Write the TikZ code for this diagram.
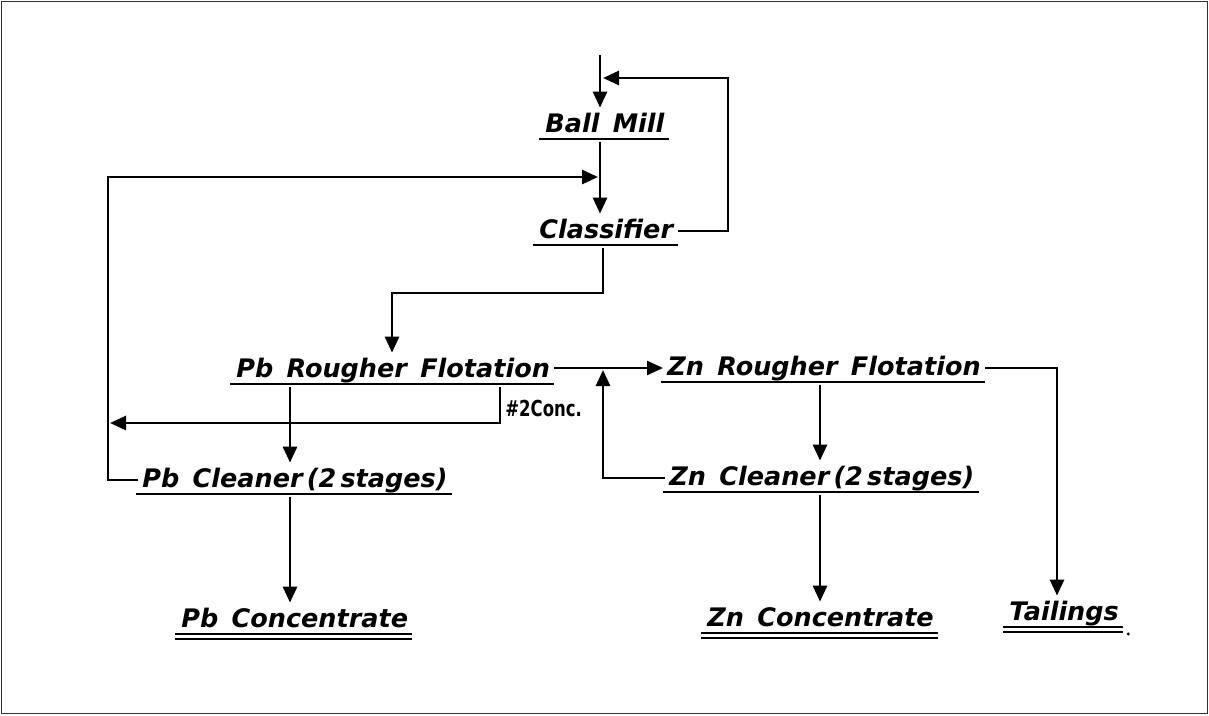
\documentclass[tikz,border=0pt]{standalone}
\usepackage{fontspec}
\usetikzlibrary{arrows.meta,calc}
\newfontfamily\hand{DejaVu Sans}[WordSpace=1.5]
\newfontfamily\smalllab{DejaVu Sans}[FakeStretch=0.75]
\begin{document}
\begin{tikzpicture}[x=1pt,y=-1pt,
  line width=2.8pt,
  arr/.style={-{Triangle[length=16pt,width=14pt]}},
  lab/.style={anchor=base west,inner xsep=3pt,inner ysep=3pt,text height=20pt,text depth=6pt,
    font=\hand\bfseries\itshape\fontsize{25.5}{30}\selectfont},
  uline/.style={line width=2.6pt},
  dline/.style={line width=2.2pt}]
\useasboundingbox (0,0) rectangle (1209,715);
\draw[line width=1.3pt,black!80] (1.5,1.5) rectangle (1207.5,713.5);

% nodes
\node[lab] (bm)  at (541,132) {Ball Mill};
\node[lab] (cl)  at (535,238) {Classifier};
\node[lab] (pbr) at (232,377) {Pb Rougher Flotation};
\node[lab] (znr) at (663,375) {Zn Rougher Flotation};
\node[lab] (pbc) at (138,487) {Pb Cleaner\,(2\,stages)};
\node[lab] (znc) at (665,485) {Zn Cleaner\,(2\,stages)};
\node[lab] (pbk) at (177,627) {Pb Concentrate};
\node[lab] (znk) at (703,626) {Zn Concentrate};
\node[lab] (tl)  at (1005,620) {Tailings};
\node[anchor=base west,inner sep=0pt,font=\smalllab\bfseries\fontsize{22}{26}\selectfont] (conc) at (504,416) {\#2Conc.};

% underlines
\foreach \n in {bm,cl,pbr,znr,pbc,znc}{
  \draw[uline] ($(\n.base west)+(-2,7)$) -- ($(\n.base east)+(0,7)$);
}
\foreach \n in {pbk,znk,tl}{
  \draw[dline] ($(\n.base west)+(-2,7)$) -- ($(\n.base east)+(0,7)$);
  \draw[dline] ($(\n.base west)+(-2,12)$) -- ($(\n.base east)+(0,12)$);
}
\fill ($(tl.base east)+(5,14)$) circle (1.6pt);

% helper coordinates
\coordinate (feed) at (600,55);
\coordinate (ret)  at (728,78);
\coordinate (lx)   at (108,177);
\coordinate (c1)   at (603,293);
\coordinate (c2)   at (392,293);
\coordinate (up)   at (603,368);
\coordinate (px)   at (290,0);
\coordinate (cx)   at (500,423);
\coordinate (tx)   at (1057,0);
\coordinate (zx)   at (820,0);

% connectors
\draw[arr] (feed) -- (bm.north -| feed);
\draw[arr] (cl.east) -| (ret) -- ($(feed |- ret)+(3,0)$);
\draw[arr] (bm.south -| feed) -- (cl.north -| feed);
\draw[arr] (pbc.west) -| (lx) -- ($(lx -| feed)+(-2,0)$);
\draw[arr] (cl.south -| c1) -- (c1) -- (c2) -- (pbr.north -| c2);
\draw[arr] ([yshift=2pt]pbr.east) -- ([yshift=2pt]pbr.east -| znr.west);
\draw[arr] (znc.west) -| ($(up)+(0,2)$);
\draw[arr] (pbr.south -| px) -- (pbc.north -| px);
\draw[arr] (pbr.south -| cx) |- ($(lx |- cx)+(2,0)$);
\draw[arr] (pbc.south -| px) -- (pbk.north -| px);
\draw[arr] (znr.east) -| (tl.north -| tx);
\draw[arr] (znr.south -| zx) -- (znc.north -| zx);
\draw[arr] (znc.south -| zx) -- (znk.north -| zx);
\end{tikzpicture}
\end{document}
